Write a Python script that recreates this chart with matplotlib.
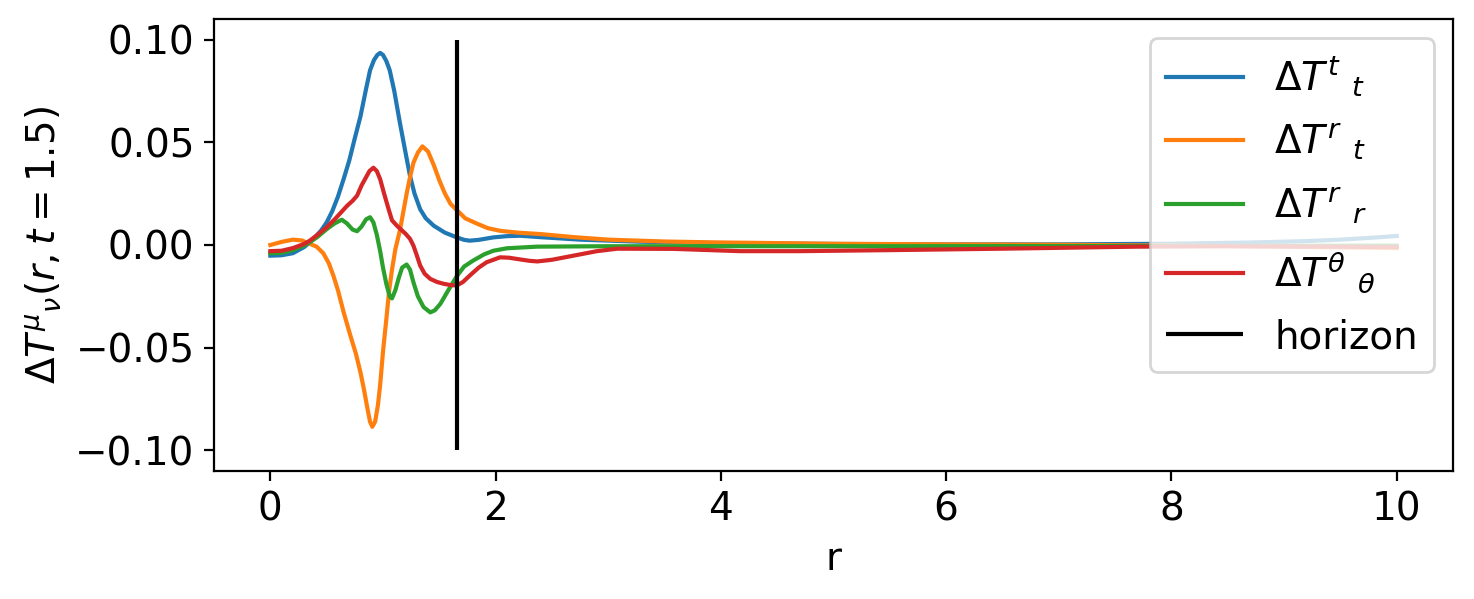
import numpy as np
import matplotlib
matplotlib.use("Agg")
import matplotlib.pyplot as plt

plt.rcParams['font.size'] = 14

# values
r_tt = [0.0, 0.1, 0.2, 0.3, 0.35, 0.4, 0.45, 0.5, 0.55, 0.6, 0.65, 0.7, 0.75, 0.8,
        0.85, 0.885, 0.92, 0.95, 0.975, 1.0, 1.03, 1.06, 1.1, 1.15, 1.2, 1.24, 1.28,
        1.33, 1.38, 1.45, 1.55, 1.655, 1.72, 1.77, 1.85, 1.98, 2.1, 2.22, 2.4, 2.75,
        3.28, 4.0, 5.0, 6.0, 7.0, 8.0, 8.7, 9.2, 9.5, 9.8, 10.0]
T_tt = [-0.0052, -0.0050, -0.0040, -0.0010, 0.0013, 0.004, 0.007, 0.011, 0.0165, 0.0235,
        0.032, 0.041, 0.052, 0.0626, 0.076, 0.085, 0.090, 0.0925, 0.0935, 0.0925, 0.0895,
        0.085, 0.075, 0.0595, 0.045, 0.0336, 0.025, 0.0174, 0.013, 0.0094, 0.0060, 0.0037,
        0.0025, 0.0021, 0.0025, 0.0037, 0.0043, 0.0045, 0.0038, 0.0026, 0.0016, 0.0009,
        0.0005, 0.0003, 0.0003, 0.0006, 0.0012, 0.0019, 0.0026, 0.0036, 0.0044]

r_rt = [0.0, 0.1, 0.2, 0.28, 0.35, 0.41, 0.47, 0.52, 0.56, 0.6, 0.65, 0.71, 0.76, 0.8,
        0.83, 0.86, 0.885, 0.905, 0.93, 0.955, 0.975, 1.0, 1.03, 1.055, 1.08, 1.11, 1.15,
        1.18, 1.21, 1.24, 1.27, 1.31, 1.35, 1.4, 1.45, 1.5, 1.55, 1.6, 1.655, 1.73, 1.83,
        1.93, 2.04, 2.2, 2.4, 2.7, 3.0, 3.5, 3.9, 5.0, 6.0, 7.0, 8.0, 9.0, 10.0]
T_rt = [0.0000, 0.0015, 0.0026, 0.0022, 0.0006, -0.0008, -0.004, -0.009, -0.015, -0.022,
        -0.0326, -0.044, -0.053, -0.062, -0.070, -0.079, -0.086, -0.0885, -0.086, -0.078,
        -0.068, -0.052, -0.036, -0.022, -0.012, -0.002, 0.007, 0.016, 0.025, 0.033, 0.040,
        0.045, 0.048, 0.0455, 0.039, 0.0315, 0.025, 0.020, 0.0170, 0.013, 0.0105, 0.0082,
        0.0069, 0.0060, 0.0053, 0.0038, 0.0026, 0.0017, 0.0013, 0.0006, 0.0003, 0.0001,
        -0.0003, -0.0008, -0.0015]

r_rr = [0.0, 0.1, 0.2, 0.3, 0.35, 0.42, 0.5, 0.57, 0.635, 0.68, 0.73, 0.77, 0.81, 0.85,
        0.885, 0.915, 0.945, 0.975, 1.0, 1.03, 1.06, 1.08, 1.11, 1.14, 1.17, 1.21, 1.24,
        1.27, 1.31, 1.36, 1.42, 1.46, 1.51, 1.58, 1.655, 1.72, 1.8, 1.9, 1.98, 2.1, 2.37,
        3.0, 5.0, 8.0, 10.0]
T_rr = [-0.0040, -0.0038, -0.0025, -0.0002, 0.0013, 0.004, 0.0077, 0.0105, 0.0123, 0.0105,
        0.0075, 0.0067, 0.009, 0.0125, 0.0135, 0.011, 0.005, -0.003, -0.011, -0.019,
        -0.025, -0.026, -0.022, -0.016, -0.011, -0.0095, -0.012, -0.0181, -0.025, -0.0302,
        -0.0328, -0.0318, -0.0286, -0.022, -0.0152, -0.0105, -0.0076, -0.0045, -0.0028,
        -0.0016, -0.0008, -0.0006, -0.0006, -0.0005, -0.0003]

r_thth = [0.0, 0.1, 0.2, 0.3, 0.35, 0.42, 0.5, 0.58, 0.68, 0.73, 0.77, 0.81, 0.84, 0.88,
          0.915, 0.945, 0.975, 1.01, 1.05, 1.08, 1.125, 1.16, 1.2, 1.24, 1.27, 1.3, 1.33,
          1.37, 1.42, 1.48, 1.54, 1.6, 1.655, 1.71, 1.77, 1.85, 1.92, 2.04, 2.12, 2.19,
          2.3, 2.37, 2.5, 2.69, 2.9, 3.08, 3.58, 4.17, 4.7, 5.5, 6.5, 7.7, 8.5, 9.3, 10.0]
T_thth = [-0.0030, -0.0028, -0.0015, 0.0005, 0.0021, 0.005, 0.0086, 0.013, 0.019, 0.0215,
          0.024, 0.029, 0.032, 0.036, 0.0376, 0.036, 0.032, 0.025, 0.0174, 0.012, 0.0093,
          0.0075, 0.0055, 0.003, -0.0003, -0.005, -0.010, -0.014, -0.0165, -0.018, -0.0189,
          -0.0195, -0.0197, -0.018, -0.0149, -0.011, -0.0084, -0.006, -0.0062, -0.0068,
          -0.0077, -0.0080, -0.0072, -0.0052, -0.0030, -0.0018, -0.0019, -0.0030, -0.0030,
          -0.0025, -0.0018, -0.0008, -0.0006, -0.0008, -0.0010]

r_horizon = 1.655

fig, ax = plt.subplots(figsize=(7.37, 2.995), dpi=200)
fig.subplots_adjust(left=0.1452, right=0.9858, top=0.9683, bottom=0.2137)

ax.plot(r_tt, T_tt, label=r'$\Delta T^t$ $_t$')
ax.plot(r_rt, T_rt, label=r'$\Delta T^r$ $_t$')
ax.plot(r_rr, T_rr, label=r'$\Delta T^r$ $_r$')
ax.plot(r_thth, T_thth, label=r'$\Delta T^\theta$ $_\theta$')
ax.vlines(r_horizon, -0.1, 0.1, color='k', label='horizon')

ax.set_xlabel('r')
ax.set_ylabel(r'$\Delta T^\mu$$_\nu(r,t=1.5)$')
ax.set_yticks([-0.10, -0.05, 0.00, 0.05, 0.10])
ax.legend(loc='upper right', labelspacing=0.6)

plt.savefig('out.png', dpi=200)
